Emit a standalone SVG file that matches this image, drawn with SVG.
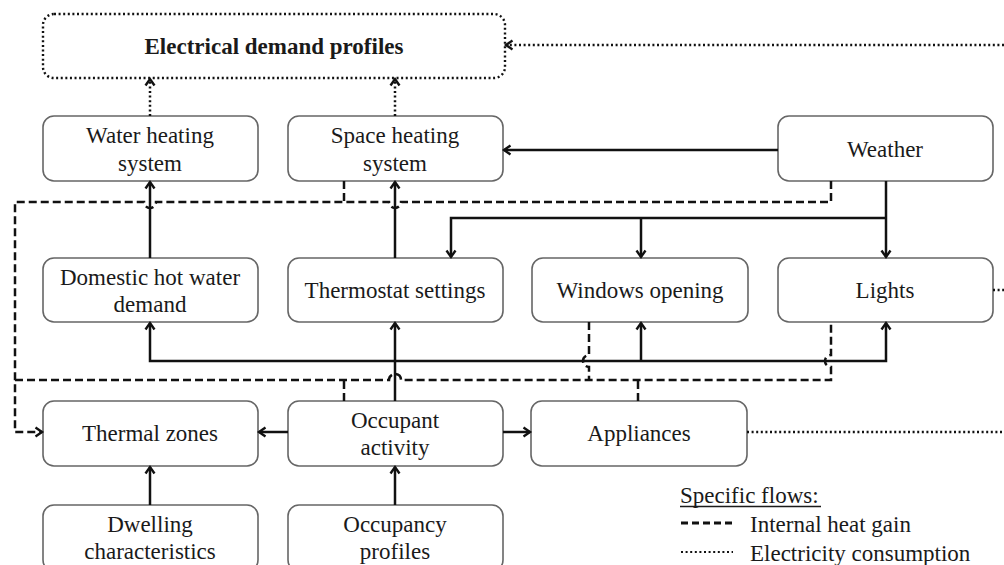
<svg xmlns="http://www.w3.org/2000/svg" width="1004" height="565" viewBox="0 0 1004 565">
<style>
.box{fill:#fff;stroke:#666;stroke-width:1.6}
.eb{fill:#fff;stroke:#111;stroke-width:2.4;stroke-dasharray:2 2.6}
.t{font-family:"Liberation Serif","Times New Roman",serif;font-size:23px;fill:#1a1a1a;text-anchor:middle}
.tl{font-family:"Liberation Serif","Times New Roman",serif;font-size:23px;fill:#1a1a1a}
.b{font-weight:bold}
.s{fill:none;stroke:#111;stroke-width:2.5}
.d{fill:none;stroke:#111;stroke-width:2.5;stroke-dasharray:8 4}
.o{fill:none;stroke:#111;stroke-width:2.5;stroke-dasharray:2 2.6}
</style>
<defs>
<marker id="ar" markerUnits="userSpaceOnUse" markerWidth="12" markerHeight="12" refX="7" refY="5" orient="auto" overflow="visible">
<path d="M0.5,0.5 L7,5 L0.5,9.5" fill="none" stroke="#111" stroke-width="2.4" stroke-dasharray="none"/>
</marker>
</defs>

<g id="electrical-demand-profiles">
<rect class="eb" x="43" y="14" width="462" height="64" rx="11"/>
<text class="t b" x="274" y="54">Electrical demand profiles</text>
</g>
<g id="water-heating-system">
<rect class="box" x="43" y="116" width="215" height="65" rx="11"/>
<text class="t" x="150" y="143">Water heating</text>
<text class="t" x="150" y="171">system</text>
</g>
<g id="space-heating-system">
<rect class="box" x="288" y="116" width="215" height="65" rx="11"/>
<text class="t" x="395" y="143">Space heating</text>
<text class="t" x="395" y="171">system</text>
</g>
<g id="weather">
<rect class="box" x="778" y="116" width="215" height="65" rx="11"/>
<text class="t" x="885" y="157">Weather</text>
</g>
<g id="domestic-hot-water-demand">
<rect class="box" x="43" y="258" width="215" height="64" rx="11"/>
<text class="t" x="150" y="285">Domestic hot water</text>
<text class="t" x="150" y="312">demand</text>
</g>
<g id="thermostat-settings">
<rect class="box" x="288" y="258" width="215" height="64" rx="11"/>
<text class="t" x="395" y="298">Thermostat settings</text>
</g>
<g id="windows-opening">
<rect class="box" x="532" y="258" width="216" height="64" rx="11"/>
<text class="t" x="640" y="298">Windows opening</text>
</g>
<g id="lights">
<rect class="box" x="778" y="258" width="215" height="64" rx="11"/>
<text class="t" x="885" y="298">Lights</text>
</g>
<g id="thermal-zones">
<rect class="box" x="43" y="401" width="215" height="65" rx="11"/>
<text class="t" x="150" y="441">Thermal zones</text>
</g>
<g id="occupant-activity">
<rect class="box" x="288" y="401" width="215" height="65" rx="11"/>
<text class="t" x="395" y="428">Occupant</text>
<text class="t" x="395" y="455">activity</text>
</g>
<g id="appliances">
<rect class="box" x="531" y="401" width="216" height="65" rx="11"/>
<text class="t" x="639" y="441">Appliances</text>
</g>
<g id="dwelling-characteristics">
<rect class="box" x="43" y="505" width="215" height="66" rx="11"/>
<text class="t" x="150" y="532">Dwelling</text>
<text class="t" x="150" y="559">characteristics</text>
</g>
<g id="occupancy-profiles">
<rect class="box" x="288" y="505" width="215" height="66" rx="11"/>
<text class="t" x="395" y="532">Occupancy</text>
<text class="t" x="395" y="559">profiles</text>
</g>

<g id="connectors">
<path class="s" d="M778,150 H504" marker-end="url(#ar)"/>
<path class="s" d="M886,181 V257" marker-end="url(#ar)"/>
<path class="s" d="M886,218 H451 V257" marker-end="url(#ar)"/>
<path class="s" d="M641,218 V257" marker-end="url(#ar)"/>
<path class="s" d="M150,258 V182" marker-end="url(#ar)"/>
<path class="s" d="M395,258 V182" marker-end="url(#ar)"/>
<path class="s" d="M395,401 V323" marker-end="url(#ar)"/>
<path class="s" d="M395,361 H150 V323" marker-end="url(#ar)"/>
<path class="s" d="M395,361 H886 V323" marker-end="url(#ar)"/>
<path class="s" d="M641,361 V323" marker-end="url(#ar)"/>
<path class="s" d="M288,432 H259" marker-end="url(#ar)"/>
<path class="s" d="M503,432 H530" marker-end="url(#ar)"/>
<path class="s" d="M150,505 V467" marker-end="url(#ar)"/>
<path class="s" d="M395,505 V467" marker-end="url(#ar)"/>

<path class="d" d="M831,181 V202 H401 a6,6 0 0 1 -12,0 H156 a6,6 0 0 1 -12,0 H15 V432 H42" marker-end="url(#ar)"/>
<path class="d" d="M344,181 V202"/>
<path class="d" d="M15,380 H389 a6,6 0 0 1 12,0 H831 V367 a6,6 0 0 1 0,-12 V322"/>
<path class="d" d="M589,322 V355 a6,6 0 0 0 0,12 V380"/>
<path class="d" d="M344,401 V380"/>
<path class="d" d="M638,401 V380"/>

<path class="o" d="M1004,45 H506" marker-end="url(#ar)"/>
<path class="o" d="M150,116 V79" marker-end="url(#ar)"/>
<path class="o" d="M395,116 V79" marker-end="url(#ar)"/>
<path class="o" d="M747,432 H1004"/>
<path class="o" d="M993,290 H1004"/>
</g>

<g id="legend">
<text class="tl" x="680" y="503">Specific flows:</text>
<line x1="680" y1="506.5" x2="821" y2="506.5" stroke="#1a1a1a" stroke-width="1.3"/>
<path class="d" d="M681,523 H733" style="stroke-width:2.8;stroke-dasharray:7 4"/>
<text class="tl" x="750" y="532">Internal heat gain</text>
<path class="o" d="M681,552 H733" style="stroke-width:2"/>
<text class="tl" x="750" y="561">Electricity consumption</text>
</g>
</svg>
